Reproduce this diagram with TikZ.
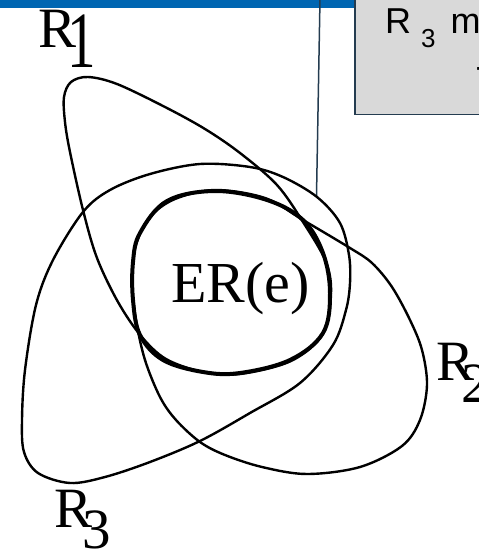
\documentclass[tikz,border=0pt]{standalone}
\usepackage{fontspec}
\setmainfont{Liberation Serif}
\newfontfamily\notesans{Liberation Sans}
\definecolor{barblue}{RGB}{0,102,178}
\definecolor{boxgray}{RGB}{217,217,217}
\definecolor{boxedge}{RGB}{36,60,80}
\begin{document}
\begin{tikzpicture}[x=1pt,y=-1pt,
  region/.style={draw=black,line width=2.4pt,line join=round},
  erline/.style={draw=black,line width=4pt},
  lbl/.style={inner sep=0pt,anchor=base west,font=\fontsize{57}{60}\selectfont},
  boxtxt/.style={inner sep=0pt,anchor=base west,font=\notesans},
  notebox/.style={draw=boxedge,fill=boxgray,line width=1.5pt,inner sep=0pt,
    minimum width=150pt,minimum height=140pt,anchor=south west},
  link/.style={draw=boxedge,line width=1.5pt}]
\useasboundingbox (0,0) rectangle (479,552);
\clip (0,0) rectangle (479,552);
% top bar
\fill[barblue] (0,0) rectangle (354,7.5);
% note box
\node[notebox] (box) at (354,115) {};
\node[boxtxt] (tR) at (385,33) {\scalebox{3.6}{R}};
\node[boxtxt] (t3) at (421,47) {\scalebox{2.6}{3}};
\node[boxtxt] (tm) at (450.5,33) {\scalebox{3.6}{m}};
\node[boxtxt] (tdash) at (475.5,78) {\scalebox{3.6}{-}};
% connector
\coordinate (ctop) at (320,-1);
\coordinate (cend) at (316.5,196);
\draw[link] (ctop) -- (cend);
% R3 region
\draw[region] plot[smooth cycle,tension=0.55] coordinates {
 (70,483) (38,473) (24,452) (22,420) (25,370) (36,305) (53,260) (83,212)
 (110,190) (150,174) (200,164) (250,167) (283,177) (317,197) (340,223)
 (349,255) (350,283) (346,310) (333,345) (300,383) (250,413) (200,441)
 (150,462) (105,477)};
% R1 region
\draw[region] plot[smooth cycle,tension=0.55] coordinates {
 (117,84) (88,77) (71,82) (64,97) (65,122) (70,152) (83,210)
 (97,258) (118,302) (141,336) (166,359) (203,372) (240,374) (291,361)
 (323,334) (331,294) (326,262) (303,222) (277,185) (240,153) (205,129) (165,107)};
% R2 region
\draw[region] plot[smooth cycle,tension=0.55] coordinates {
 (303,220) (350,248) (372,263) (392,287) (410,320) (422,350) (427,385)
 (420,420) (402,446) (360,467) (307,474) (262,467) (225,455) (200,442)
 (176,420) (160,397) (145,360) (136,320) (132,280) (136,245) (150,217)
 (175,199) (215,190) (265,198)};
% ER(e)
\draw[erline] plot[smooth cycle,tension=0.6] coordinates {
 (215,191) (267,200) (303,220) (323,253) (330,293) (323,333) (290,360)
 (240,373) (203,372) (163,360) (140,335) (133,300) (133,262) (140,233)
 (167,201)};
\node[lbl,font=\fontsize{58}{60}\selectfont] (er) at (171,302) {ER(e)};
% labels
\node[lbl] (l1R) at (38,47) {R};
\node[lbl] (l1s) at (67,67) {\scalebox{1}[1.4]{1}};
\node[lbl] (l2R) at (436,380) {R};
\node[lbl] (l2s) at (461,402) {2};
\node[lbl] (l3R) at (54,527) {R};
\node[lbl] (l3s) at (82,548) {3};
\end{tikzpicture}
\end{document}
